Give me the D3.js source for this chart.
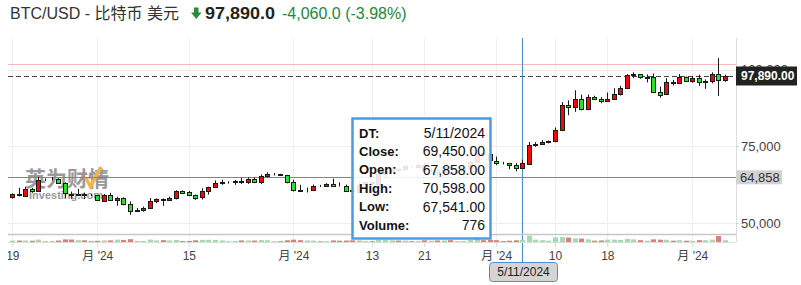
<!DOCTYPE html>
<html>
<head>
<meta charset="utf-8">
<script src="https://cdn.jsdelivr.net/npm/d3@7"></script>
<style>
    html, body { margin: 0; padding: 0; background: #fff; }
    svg { display: block; font-family: "Liberation Sans", Arial, "Noto Sans CJK SC", sans-serif; }
</style>
</head>
<body>
<div id="chart"></div>
<script>
// daily candles, 19 Aug 2024 -> 6 Dec 2024
const firstDay = "2024-08-19";
const lastDay = "2024-12-06";

const opens = [58430, 59480, 59020, 61150, 60380, 64070, 64160, 64250, 62840, 59420,
    59030, 59360, 59120, 58970, 57300, 59130, 57480, 57970, 56160, 53960,
    54150, 54840, 57050, 57650, 57340, 58130, 60540, 60000, 59180, 58210,
    60300, 61760, 62950, 63200, 63350, 63580, 63340, 64280, 63140, 65180,
    65790, 65880, 65610, 63300, 60800, 60630, 60750, 62080, 62060, 62820,
    62220, 62130, 60580, 60270, 62450, 63190, 62850, 66050, 67040, 67610,
    67400, 68400, 68360, 69000, 67370, 67380, 66660, 68170, 66620, 67040,
    67950, 69900, 72720, 72340, 70280, 69490, 69360, 68750, 67858, 69450,
    75500, 75800, 76400, 76600, 80300, 88300, 87700, 90300, 87100, 90900,
    90300, 89700, 90300, 92000, 93900, 98100, 98400, 97500, 97700, 92800,
    91900, 95800, 95600, 97500, 96200, 97100, 95900, 96100, 98400, 96500];
const highs = [59620, 61400, 61800, 61400, 64950, 64500, 65000, 64500, 63200, 60200,
    61100, 59900, 59450, 59080, 59400, 59800, 58500, 58300, 56980, 54850,
    55300, 58100, 58000, 57990, 58600, 60650, 60630, 60400, 59200, 61300,
    61800, 63850, 64100, 63550, 64000, 64700, 64800, 64800, 65800, 66500,
    66250, 66000, 65650, 64100, 62400, 61500, 62500, 62380, 62950, 64450,
    63200, 62500, 61300, 63400, 63450, 63250, 66500, 67900, 68400, 67950,
    68950, 68650, 69350, 69500, 67850, 67450, 68800, 68750, 67400, 68300,
    70250, 73600, 72950, 72650, 71600, 69900, 69400, 69500, 70598, 76400,
    76300, 77000, 76900, 81100, 89400, 89950, 93250, 91800, 91850, 91450,
    91000, 92500, 93900, 94700, 98500, 99100, 98500, 98400, 98700, 94400,
    97200, 96600, 98500, 97700, 97900, 98300, 96800, 99100, 103800, 98300];
const lows = [57860, 58600, 58800, 59800, 60350, 63600, 63800, 62800, 58100, 57900,
    58800, 57800, 58750, 57200, 57150, 57400, 55600, 55700, 52600, 53750,
    53650, 54600, 56400, 55550, 57330, 57650, 59450, 58700, 57500, 57600,
    59200, 61600, 62400, 62800, 62400, 62700, 62700, 62950, 62700, 64800,
    65450, 65400, 62900, 60200, 60100, 59900, 60500, 61700, 61850, 62150,
    61850, 60300, 58900, 60050, 62450, 62050, 62450, 64800, 66750, 66700,
    67100, 68000, 68100, 66600, 66600, 65300, 66550, 65500, 66600, 66800,
    67600, 69700, 71450, 69700, 68800, 69050, 67500, 66800, 67541, 69000,
    74800, 75500, 75900, 76300, 80200, 85100, 86200, 86700, 87000, 90100,
    89000, 89400, 90300, 91500, 93700, 97200, 97000, 95800, 92600, 90800,
    91800, 94800, 95400, 96000, 95700, 94700, 93700, 95500, 91400, 96000];
const closes = [59480, 59020, 61150, 60380, 64070, 64160, 64250, 62840, 59420, 59030,
    59360, 59120, 58970, 57300, 59130, 57480, 57970, 56160, 53960, 54150,
    54840, 57050, 57650, 57340, 58130, 60540, 60000, 59180, 58210, 60300,
    61760, 62950, 63200, 63350, 63580, 63340, 64280, 63140, 65180, 65790,
    65880, 65610, 63300, 60800, 60630, 60750, 62080, 62060, 62820, 62220,
    62130, 60580, 60270, 62450, 63190, 62850, 66050, 67040, 67610, 67400,
    68400, 68360, 69000, 67370, 67380, 66660, 68170, 66620, 67040, 67950,
    69900, 72720, 72340, 70280, 69490, 69360, 68750, 67800, 69450, 75500,
    75800, 76400, 76600, 80300, 88300, 87700, 90300, 87100, 90900, 90300,
    89700, 90300, 92000, 93900, 98100, 98400, 97500, 97700, 92800, 91900,
    95800, 95600, 97500, 96200, 97100, 95900, 96100, 98400, 96500, 97890];
const volumes = [520, 560, 600, 480, 900, 400, 380, 560, 1000, 950,
    700, 650, 300, 450, 600, 620, 900, 800, 1100, 400,
    420, 900, 600, 700, 600, 750, 350, 400, 650, 800,
    850, 800, 600, 300, 400, 600, 600, 550, 750, 650,
    280, 300, 650, 900, 700, 600, 550, 250, 300, 600,
    500, 550, 650, 600, 350, 300, 800, 850, 650, 550,
    550, 300, 350, 650, 500, 600, 600, 700, 350, 350,
    750, 1100, 700, 750, 700, 350, 500, 650, 776, 2400,
    900, 700, 500, 1800, 1900, 1700, 1400, 1300, 1000, 500,
    600, 900, 900, 800, 1200, 1000, 700, 500, 1000, 900,
    850, 500, 700, 500, 450, 700, 700, 900, 2300, 700];

const tickDates = ["2024-08-19", "2024-09-01", "2024-09-15", "2024-10-01", "2024-10-13",
    "2024-10-21", "2024-11-01", "2024-11-10", "2024-11-18", "2024-12-01"];
const tickLabels = ["19", "月 '24", "15", "月 '24", "13", "21", "月 '24", "10", "18", "月 '24"];
const priceTicks = [50000, 75000, 100000];

const lastPrice = 97890;
const prevClose = 101950;
const crossPrice = 64858;
const hoverIndex = 78;
const hoverLabel = "5/11/2024";

const W = 801, H = 285;
const parseDay = d3.utcParse("%Y-%m-%d");
const days = d3.utcDay.range(parseDay(firstDay), d3.utcDay.offset(parseDay(lastDay), 1));

const candleData = days.map((d, i) => ({
    date: d, open: opens[i], high: highs[i], low: lows[i], close: closes[i], volume: volumes[i]
}));

const plotLeft = 8, plotRight = 736, plotTop = 38, plotBottom = 234, volBase = 242;

const x = d3.scaleUtc()
    .domain([days[0], days[days.length - 1]])
    .range([12.3, 725]);

const y = d3.scaleLinear()
    .domain([46370, 110280])
    .range([plotBottom, plotTop]);

const yVol = d3.scaleLinear()
    .domain([0, 2500])
    .range([volBase, volBase - 6.5]);

const svg = d3.select("#chart").append("svg")
    .attr("width", W)
    .attr("height", H);

// header
const header = svg.append("g").attr("font-size", 16);
header.append("text").attr("x", 10).attr("y", 18.5).attr("fill", "#333")
    .text("BTC/USD - 比特币 美元");
header.append("path")
    .attr("d", "M194,7.5 H198.5 V12.5 H201.5 L196.25,19 L191,12.5 H194 Z")
    .attr("fill", "#2b8a3e");
header.append("text").attr("x", 205).attr("y", 18.5).attr("fill", "#222")
    .attr("font-weight", "bold").attr("textLength", 70).attr("lengthAdjust", "spacingAndGlyphs")
    .text("97,890.0");
header.append("text").attr("x", 282).attr("y", 18.5).attr("fill", "#22883a")
    .text("-4,060.0 (-3.98%)");

// grid
const grid = svg.append("g");
grid.selectAll(".vgrid")
    .data(tickDates)
    .enter().append("line")
    .attr("x1", d => Math.round(x(parseDay(d))) + 0.5)
    .attr("x2", d => Math.round(x(parseDay(d))) + 0.5)
    .attr("y1", plotTop).attr("y2", volBase)
    .attr("stroke", "#f0f0f0");
grid.selectAll(".hgrid")
    .data(priceTicks)
    .enter().append("line")
    .attr("x1", plotLeft).attr("x2", plotRight)
    .attr("y1", d => Math.round(y(d)) + 0.5)
    .attr("y2", d => Math.round(y(d)) + 0.5)
    .attr("stroke", "#eeeeee");

// watermark
const wm = svg.append("g").attr("opacity", 0.85);
wm.append("text").attr("x", 25).attr("y", 186)
    .attr("font-family", "'Noto Sans CJK SC', sans-serif")
    .attr("font-size", 21).attr("font-weight", "bold").attr("fill", "#888")
    .text("英为财情");
wm.append("path").attr("d", "M86,178 L90.5,186.5 L101,167")
    .attr("fill", "none").attr("stroke", "#f6a623").attr("stroke-width", 3.5);
wm.append("text").attr("x", 29).attr("y", 199)
    .attr("font-size", 11).attr("font-weight", "bold").attr("fill", "#888")
    .text("Investing.com");

// reference lines
svg.append("line")
    .attr("x1", plotLeft).attr("x2", plotRight)
    .attr("y1", Math.round(y(prevClose)) + 0.5).attr("y2", Math.round(y(prevClose)) + 0.5)
    .attr("stroke", "#f6b8b8");
svg.append("line")
    .attr("x1", plotLeft).attr("x2", plotRight)
    .attr("y1", Math.round(y(lastPrice)) + 0.5).attr("y2", Math.round(y(lastPrice)) + 0.5)
    .attr("stroke", "#444").attr("stroke-dasharray", "5,3");

// crosshair
const hx = Math.round(x(days[hoverIndex])) + 0.5;
const hy = Math.round(y(crossPrice)) + 0.5;
svg.append("line")
    .attr("x1", plotLeft).attr("x2", plotRight).attr("y1", hy).attr("y2", hy)
    .attr("stroke", "#4f8fd6").attr("stroke-width", 1.2);
svg.append("line")
    .attr("x1", hx).attr("x2", hx).attr("y1", plotTop).attr("y2", 262)
    .attr("stroke", "#4f8fd6").attr("stroke-width", 1.2);

// pane separator + volume baseline
svg.append("line").attr("x1", plotLeft).attr("x2", plotRight)
    .attr("y1", plotBottom + 0.5).attr("y2", plotBottom + 0.5)
    .attr("stroke", "#c8c8c8").attr("stroke-width", 1.5);
svg.append("line").attr("x1", plotLeft).attr("x2", plotRight)
    .attr("y1", volBase + 0.5).attr("y2", volBase + 0.5)
    .attr("stroke", "#dddddd");

// volume bars (green when price rose, red when it fell)
svg.append("g").selectAll("rect")
    .data(candleData)
    .enter().append("rect")
    .attr("x", d => Math.round(x(d.date)) - 2)
    .attr("width", 5)
    .attr("y", d => yVol(d.volume))
    .attr("height", d => volBase - yVol(d.volume))
    .attr("fill", d => d.close >= d.open ? "#a6d8b2" : "#e57a7a");

// candles: red = up, green = down
const candles = svg.append("g").selectAll("g")
    .data(candleData)
    .enter().append("g");

candles.append("line")
    .attr("x1", d => Math.round(x(d.date)) + 0.5)
    .attr("x2", d => Math.round(x(d.date)) + 0.5)
    .attr("y1", d => y(d.high))
    .attr("y2", d => y(d.low))
    .attr("stroke", "#1a1a1a");

candles.append("rect")
    .attr("x", d => Math.round(x(d.date)) - 1.5)
    .attr("width", 4)
    .attr("y", d => Math.round(y(Math.max(d.open, d.close))) + 0.5)
    .attr("height", d => Math.max(0, Math.round(Math.abs(y(d.open) - y(d.close)))))
    .attr("fill", d => d.close > d.open ? "#ee0a0a" : "#2ee02e")
    .attr("stroke", "#1a1a1a");

// right price axis
svg.append("line").attr("x1", plotRight + 0.5).attr("x2", plotRight + 0.5)
    .attr("y1", plotTop).attr("y2", volBase)
    .attr("stroke", "#dddddd");

const yAxis = svg.append("g")
    .attr("transform", `translate(${plotRight}, 0)`)
    .call(d3.axisRight(y).tickValues(priceTicks).tickFormat(d3.format(",")).tickSize(3).tickPadding(2));
yAxis.select(".domain").remove();
yAxis.selectAll("line").attr("stroke", "#cccccc");
yAxis.selectAll("text").attr("fill", "#444").attr("font-size", 13)
    .attr("font-family", "'Liberation Sans', Arial, sans-serif");

// last price flag
const lpY = y(lastPrice);
svg.append("rect").attr("x", 736).attr("y", lpY - 9.5).attr("width", 61).attr("height", 19)
    .attr("fill", "#222");
svg.append("text").attr("x", 741).attr("y", lpY).attr("dy", "0.35em")
    .attr("fill", "#fff").attr("font-size", 12).attr("font-weight", "bold")
    .text(d3.format(",.2f")(lastPrice));

// crosshair price flag
const cpY = y(crossPrice);
svg.append("rect").attr("x", 736).attr("y", cpY - 7).attr("width", 46).attr("height", 14)
    .attr("fill", "#d2d2d2");
svg.append("text").attr("x", 740).attr("y", cpY).attr("dy", "0.35em")
    .attr("fill", "#333").attr("font-size", 13)
    .text(d3.format(",")(crossPrice));

// bottom time axis
const xAxisG = svg.append("g")
    .attr("transform", `translate(0, ${volBase})`)
    .call(d3.axisBottom(x)
        .tickValues(tickDates.map(parseDay))
        .tickFormat((d, i) => tickLabels[i])
        .tickSize(5).tickPadding(4));
xAxisG.select(".domain").remove();
xAxisG.selectAll("line").attr("stroke", "#d8d8d8");
xAxisG.selectAll("text").attr("fill", "#444").attr("font-size", 12)
    .attr("font-family", "'Liberation Sans', Arial, 'Noto Sans CJK SC', sans-serif");
svg.append("defs").append("clipPath").attr("id", "axclip")
    .append("rect").attr("x", 8).attr("y", 0).attr("width", 793).attr("height", H);
xAxisG.attr("clip-path", "url(#axclip)");

// tooltip
const hd = candleData[hoverIndex];
const tipRows = [
    ["DT:", hoverLabel],
    ["Close:", d3.format(",.2f")(hd.close)],
    ["Open:", d3.format(",.2f")(hd.open)],
    ["High:", d3.format(",.2f")(hd.high)],
    ["Low:", d3.format(",.2f")(hd.low)],
    ["Volume:", d3.format(",")(hd.volume)]
];
const tip = svg.append("g");
tip.append("rect").attr("x", 352.5).attr("y", 118.5).attr("width", 138).attr("height", 120)
    .attr("fill", "#fff").attr("fill-opacity", 0.88)
    .attr("stroke", "#4a9ae6").attr("stroke-width", 2.5);
tip.selectAll(".lbl")
    .data(tipRows)
    .enter().append("text")
    .attr("x", 359).attr("y", (d, i) => 133 + i * 18.4).attr("dy", "0.35em")
    .attr("font-size", 13).attr("font-weight", "bold").attr("fill", "#111")
    .text(d => d[0]);
tip.selectAll(".val")
    .data(tipRows)
    .enter().append("text")
    .attr("x", 485).attr("y", (d, i) => 133 + i * 18.4).attr("dy", "0.35em")
    .attr("text-anchor", "end")
    .attr("font-size", 14).attr("fill", "#111")
    .text(d => d[1]);

// date flag under crosshair
svg.append("rect").attr("x", 489.5).attr("y", 262.5).attr("width", 68).attr("height", 19).attr("rx", 3)
    .attr("fill", "#d4d4d4").attr("stroke", "#4f8fd6");
svg.append("text").attr("x", 523.5).attr("y", 272).attr("dy", "0.35em")
    .attr("text-anchor", "middle").attr("font-size", 12).attr("fill", "#222")
    .text(hoverLabel);
</script>
</body>
</html>
